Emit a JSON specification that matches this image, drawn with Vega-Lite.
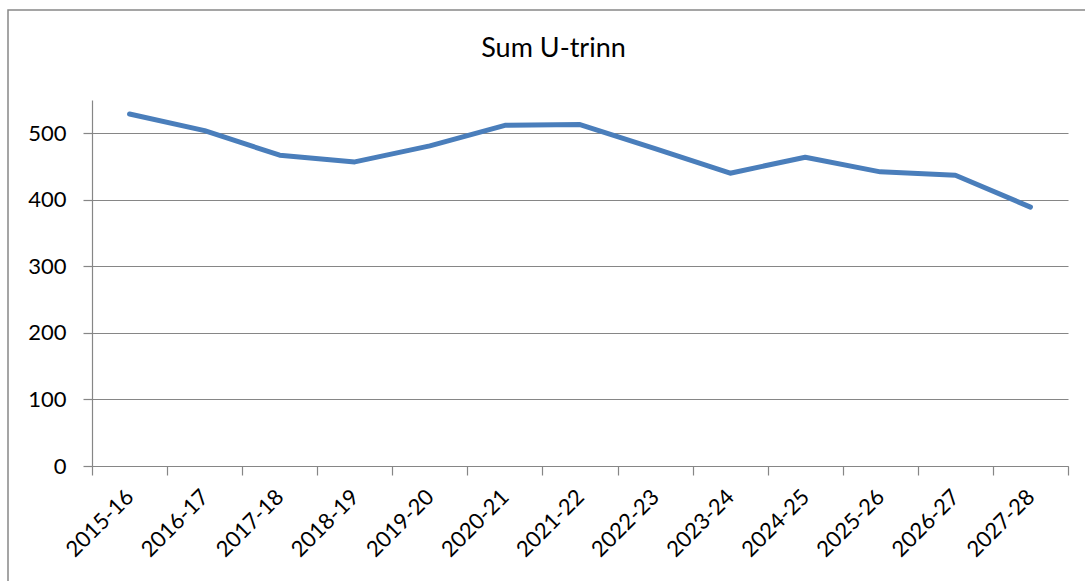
{
  "$schema": "https://vega.github.io/schema/vega-lite/v6.json",
  "autosize": "none",
  "width": 1087,
  "height": 581,
  "padding": {"left": 8, "top": 10, "right": -10, "bottom": -10},
  "background": "white",
  "title": {"text": "Sum U-trinn", "font": "Lato", "fontSize": 27, "fontWeight": "normal", "color": "#000000", "anchor": "middle", "baseline": "alphabetic", "offset": -74, "dx": 2},
  "config": {"view": {"stroke": "#888888", "strokeWidth": 1.5}},
  "data": {"values": [
    {"year": "2015-16", "sum": 529},
    {"year": "2016-17", "sum": 504},
    {"year": "2017-18", "sum": 467},
    {"year": "2018-19", "sum": 457},
    {"year": "2019-20", "sum": 481},
    {"year": "2020-21", "sum": 512},
    {"year": "2021-22", "sum": 513},
    {"year": "2022-23", "sum": 477},
    {"year": "2023-24", "sum": 440},
    {"year": "2024-25", "sum": 464},
    {"year": "2025-26", "sum": 442},
    {"year": "2026-27", "sum": 437},
    {"year": "2027-28", "sum": 389}
  ]},
  "mark": {"type": "line", "color": "#4a7ebb", "strokeWidth": 5, "strokeCap": "round", "strokeJoin": "round"},
  "encoding": {
    "x": {
      "field": "year", "type": "ordinal", "bandPosition": 0.5,
      "scale": {"type": "band", "paddingInner": 0, "paddingOuter": 0, "range": [84, 1060]},
      "axis": {
        "title": null, "offset": -125, "tickBand": "extent", "labelAngle": -45, "labelAlign": "right", "labelBaseline": "middle",
        "labelFont": "Lato", "labelFontSize": 22, "labelColor": "#000000", "labelPadding": 18,
        "domainColor": "#868686", "domainWidth": 1.2, "tickColor": "#868686", "tickWidth": 1.2, "tickSize": 9, "grid": false
      }
    },
    "y": {
      "field": "sum", "type": "quantitative",
      "scale": {"domain": [0, 550], "nice": false, "range": [456, 90]},
      "axis": {
        "title": null, "offset": -84, "values": [0, 100, 200, 300, 400, 500],
        "labelFont": "Lato", "labelFontSize": 22, "labelColor": "#000000", "labelPadding": 17,
        "domainColor": "#868686", "domainWidth": 1.2, "tickColor": "#868686", "tickWidth": 1.2, "tickSize": 9,
        "grid": true, "gridColor": "#868686", "gridWidth": 1.2
      }
    }
  }
}
